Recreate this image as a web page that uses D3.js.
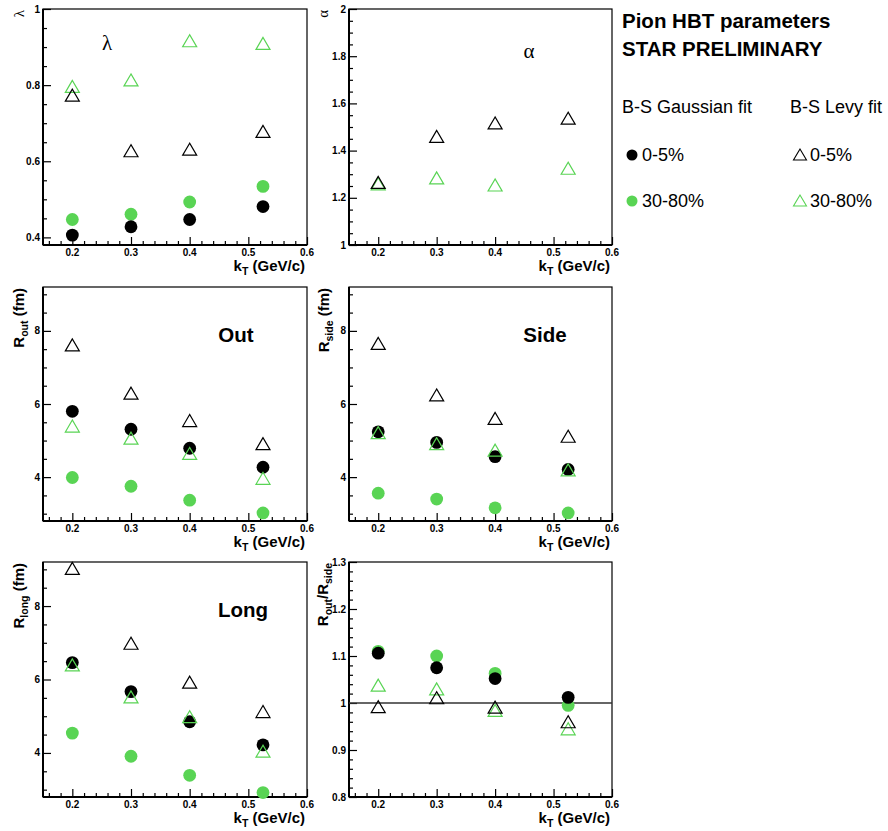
<!DOCTYPE html>
<html>
<head>
<meta charset="utf-8">
<script src="https://cdn.jsdelivr.net/npm/d3@7"></script>
<style>
  body { margin: 0; background: #fff; }
  svg { display: block; font-family: "Liberation Sans", Arial, sans-serif; }
</style>
</head>
<body>
<script>
// ---------- DATA ----------
const kT = [0.2, 0.3, 0.4, 0.525];
const xTicks = [0.2, 0.3, 0.4, 0.5, 0.6];

// lambda
const lambdaGaus0_5   = [0.406, 0.428, 0.447, 0.481];
const lambdaGaus30_80 = [0.447, 0.461, 0.493, 0.534];
const lambdaLevy0_5   = [0.771, 0.625, 0.629, 0.676];
const lambdaLevy30_80 = [0.794, 0.811, 0.914, 0.907];
// alpha (Levy only)
const alphaLevy0_5    = [1.261, 1.456, 1.513, 1.533];
const alphaLevy30_80  = [1.255, 1.280, 1.250, 1.321];
// R_out
const routGaus0_5     = [5.80, 5.31, 4.79, 4.27];
const routGaus30_80   = [3.99, 3.75, 3.37, 3.02];
const routLevy0_5     = [7.59, 6.27, 5.52, 4.89];
const routLevy30_80   = [5.37, 5.04, 4.62, 3.94];
// R_side
const rsideGaus0_5    = [5.24, 4.95, 4.56, 4.21];
const rsideGaus30_80  = [3.56, 3.40, 3.16, 3.02];
const rsideLevy0_5    = [7.63, 6.22, 5.58, 5.09];
const rsideLevy30_80  = [5.19, 4.89, 4.71, 4.17];
// R_long
const rlongGaus0_5    = [6.46, 5.67, 4.85, 4.22];
const rlongGaus30_80  = [4.54, 3.91, 3.39, 2.92];
const rlongLevy0_5    = [9.00, 6.96, 5.90, 5.10];
const rlongLevy30_80  = [6.37, 5.50, 4.96, 4.02];
// R_out / R_side
const ratioGaus0_5    = [1.106, 1.075, 1.052, 1.012];
const ratioGaus30_80  = [1.110, 1.100, 1.063, 0.995];
const ratioLevy0_5    = [0.990, 1.009, 0.989, 0.958];
const ratioLevy30_80  = [1.036, 1.028, 0.982, 0.943];

const legendTitle = ["Pion HBT parameters", "STAR PRELIMINARY"];
const legendHeads = ["B-S Gaussian fit", "B-S Levy fit"];
const centralities = ["0-5%", "30-80%"];

// ---------- STYLE ----------
const BLACK = "#000000";
const GREEN = "#59d454";

const W = 888, H = 831;
const svg = d3.select("body").append("svg").attr("width", W).attr("height", H);

const triPath = "M0,-7 L-7,5 L7,5 Z";

const panels = [
  { box: [43, 307, 9, 245], dom: [0.38, 1], major: [0.4, 0.6, 0.8, 1], minorStep: 0.05,
    series: [[lambdaGaus30_80, "c", GREEN], [lambdaGaus0_5, "c", BLACK], [lambdaLevy30_80, "t", GREEN], [lambdaLevy0_5, "t", BLACK]],
    ytitle: [{t: "λ", serif: true}], ytx: 24, inLabel: { text: "λ", x: 107, y: 50, serif: true } },
  { box: [349, 612, 9, 245], dom: [1, 2], major: [1, 1.2, 1.4, 1.6, 1.8, 2], minorStep: 0.05,
    series: [[alphaLevy30_80, "t", GREEN], [alphaLevy0_5, "t", BLACK]],
    ytitle: [{t: "α", serif: true}], ytx: 328, inLabel: { text: "α", x: 529, y: 58, serif: true } },
  { box: [43, 307, 287, 521], dom: [2.8, 9.2], major: [4, 6, 8], minorStep: 0.5,
    series: [[routGaus30_80, "c", GREEN], [routGaus0_5, "c", BLACK], [routLevy30_80, "t", GREEN], [routLevy0_5, "t", BLACK]],
    ytitle: [{t: "R"}, {t: "out", sub: true}, {t: " (fm)"}], ytx: 24, inLabel: { text: "Out", x: 236, y: 342 } },
  { box: [349, 612, 287, 521], dom: [2.8, 9.2], major: [4, 6, 8], minorStep: 0.5,
    series: [[rsideGaus30_80, "c", GREEN], [rsideGaus0_5, "c", BLACK], [rsideLevy30_80, "t", GREEN], [rsideLevy0_5, "t", BLACK]],
    ytitle: [{t: "R"}, {t: "side", sub: true}, {t: " (fm)"}], ytx: 329, inLabel: { text: "Side", x: 545, y: 342 } },
  { box: [43, 307, 562, 797], dom: [2.8, 9.2], major: [4, 6, 8], minorStep: 0.5,
    series: [[rlongGaus30_80, "c", GREEN], [rlongGaus0_5, "c", BLACK], [rlongLevy30_80, "t", GREEN], [rlongLevy0_5, "t", BLACK]],
    ytitle: [{t: "R"}, {t: "long", sub: true}, {t: " (fm)"}], ytx: 24, inLabel: { text: "Long", x: 243, y: 617 } },
  { box: [349, 612, 562, 797], dom: [0.8, 1.3], major: [0.8, 0.9, 1, 1.1, 1.2, 1.3], minorStep: 0.02,
    series: [[ratioGaus30_80, "c", GREEN], [ratioGaus0_5, "c", BLACK], [ratioLevy30_80, "t", GREEN], [ratioLevy0_5, "t", BLACK]],
    ytitle: [{t: "R"}, {t: "out", sub: true}, {t: "/R"}, {t: "side", sub: true}], ytx: 328, refLine: 1 }
];

const fmt = d => d3.format("~g")(+d.toFixed(3));

panels.forEach(p => {
  const [l, r, t, b] = p.box;
  const x = d3.scaleLinear().domain([0.15, 0.6]).range([l, r]);
  const y = d3.scaleLinear().domain(p.dom).range([b, t]);
  const g = svg.append("g");

  // frame
  g.append("rect").attr("x", l).attr("y", t).attr("width", r - l).attr("height", b - t)
    .attr("fill", "none").attr("stroke", "#000").attr("stroke-width", 1.2);
  g.append("line").attr("x1", l).attr("x2", l).attr("y1", t).attr("y2", b).attr("stroke", "#000").attr("stroke-width", 2);
  g.append("line").attr("x1", l).attr("x2", r).attr("y1", b).attr("y2", b).attr("stroke", "#000").attr("stroke-width", 2);

  // x axis ticks (inward) using d3 axis
  const xMinor = d3.range(0.16, 0.6001, 0.02).filter(v => !xTicks.some(m => Math.abs(m - v) < 1e-6));
  const xAxisMinor = d3.axisTop(x).tickValues(xMinor).tickSize(4).tickFormat("");
  const xAxisMajor = d3.axisTop(x).tickValues(xTicks).tickSize(8).tickFormat("");
  [xAxisMinor, xAxisMajor].forEach(ax => {
    const ag = g.append("g").attr("transform", `translate(0,${b})`).call(ax);
    ag.select(".domain").remove();
    ag.selectAll("line").attr("stroke", "#000").attr("stroke-width", 1.2);
  });
  g.selectAll(".xlab").data(xTicks).enter().append("text")
    .attr("x", d => x(d)).attr("y", b + 10.5).attr("text-anchor", "middle")
    .attr("font-size", 10).attr("font-weight", "bold").text(d => fmt(d));

  // y axis ticks (inward)
  const start = Math.ceil(p.dom[0] / p.minorStep - 1e-6) * p.minorStep;
  const yMinor = d3.range(start, p.dom[1] + 1e-6, p.minorStep)
    .filter(v => !p.major.some(m => Math.abs(m - v) < 1e-6));
  const yAxisMinor = d3.axisRight(y).tickValues(yMinor).tickSize(4).tickFormat("");
  const yAxisMajor = d3.axisRight(y).tickValues(p.major).tickSize(8).tickFormat("");
  [yAxisMinor, yAxisMajor].forEach(ax => {
    const ag = g.append("g").attr("transform", `translate(${l},0)`).call(ax);
    ag.select(".domain").remove();
    ag.selectAll("line").attr("stroke", "#000").attr("stroke-width", 1.2);
  });
  g.selectAll(".ylab").data(p.major).enter().append("text")
    .attr("x", l - 3).attr("y", d => y(d) + 3.5).attr("text-anchor", "end")
    .attr("font-size", 10).attr("font-weight", "bold").text(d => fmt(d));

  // x title
  const xt = g.append("text").attr("x", r - 2).attr("y", b + 25.5).attr("text-anchor", "end")
    .attr("font-size", 15).attr("font-weight", "bold");
  xt.append("tspan").text("k");
  xt.append("tspan").attr("dy", 4).attr("font-size", 10.5).text("T");
  xt.append("tspan").attr("dy", -4).text(" (GeV/c)");

  // y title
  const yt = g.append("text").attr("transform", `translate(${p.ytx},${t + 1}) rotate(-90)`)
    .attr("text-anchor", "end");
  if (p.ytitle[0].serif) {
    yt.attr("font-family", "'Liberation Serif', 'DejaVu Serif', serif").attr("font-size", 15).text(p.ytitle[0].t);
  } else {
    yt.attr("font-size", 15).attr("font-weight", "bold");
    let prevSub = false;
    p.ytitle.forEach(part => {
      const ts = yt.append("tspan").text(part.t);
      if (part.sub && !prevSub) ts.attr("dy", 4).attr("font-size", 10.5);
      else if (!part.sub && prevSub) ts.attr("dy", -4);
      else if (part.sub) ts.attr("font-size", 10.5);
      prevSub = !!part.sub;
    });
  }

  // in-panel label
  if (p.inLabel) {
    const il = g.append("text").attr("x", p.inLabel.x).attr("y", p.inLabel.y)
      .attr("text-anchor", "middle").text(p.inLabel.text);
    if (p.inLabel.serif) il.attr("font-family", "'Liberation Serif', 'DejaVu Serif', serif").attr("font-size", 21);
    else il.attr("font-size", 20.5).attr("font-weight", "bold");
  }

  // reference line
  if (p.refLine !== undefined) {
    g.append("line").attr("x1", l).attr("x2", r).attr("y1", y(p.refLine)).attr("y2", y(p.refLine))
      .attr("stroke", "#333").attr("stroke-width", 1.6);
  }

  // markers
  p.series.forEach(([vals, shape, col]) => {
    const pts = vals.map((v, i) => [kT[i], v]);
    if (shape === "c") {
      g.selectAll(null).data(pts).enter().append("circle")
        .attr("cx", d => x(d[0])).attr("cy", d => y(d[1])).attr("r", 6.4).attr("fill", col);
    } else {
      g.selectAll(null).data(pts).enter().append("path")
        .attr("d", triPath)
        .attr("transform", d => `translate(${x(d[0])},${y(d[1])})`)
        .attr("fill", "none").attr("stroke", col).attr("stroke-width", 1.2);
    }
  });
});

// ---------- LEGEND ----------
const lg = svg.append("g");
lg.selectAll(null).data(legendTitle).enter().append("text")
  .attr("x", 622).attr("y", (d, i) => 28 + i * 28)
  .attr("font-size", 20.5).attr("font-weight", "bold").text(d => d);
lg.selectAll(null).data(legendHeads).enter().append("text")
  .attr("x", (d, i) => i === 0 ? 622 : 790).attr("y", 113)
  .attr("font-size", 18).text(d => d);
const legCols = [BLACK, GREEN];
centralities.forEach((c, i) => {
  const yy = 155 + i * 46;
  lg.append("circle").attr("cx", 632).attr("cy", yy).attr("r", 5.5).attr("fill", legCols[i]);
  lg.append("text").attr("x", 642).attr("y", yy + 6).attr("font-size", 18).text(c);
  lg.append("path").attr("d", "M0,-6 L-6.5,5 L6.5,5 Z")
    .attr("transform", `translate(800,${yy})`)
    .attr("fill", "none").attr("stroke", legCols[i]).attr("stroke-width", 1.1);
  lg.append("text").attr("x", 810).attr("y", yy + 6).attr("font-size", 18).text(c);
});
</script>
</body>
</html>
